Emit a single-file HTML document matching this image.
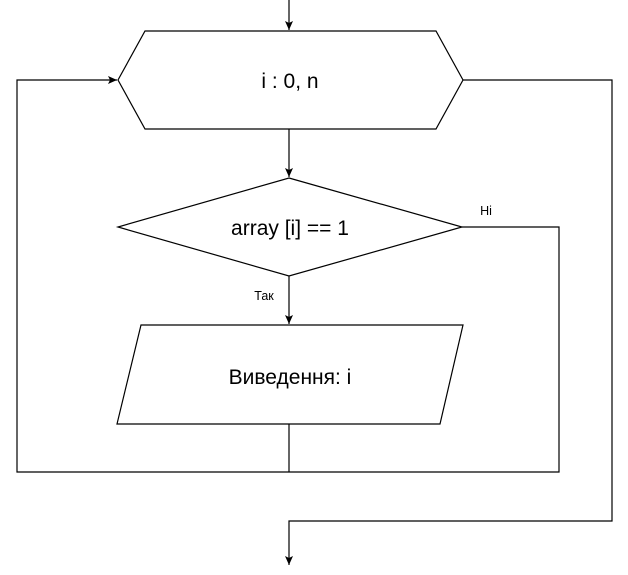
<!DOCTYPE html>
<html><head><meta charset="utf-8"><style>html,body{margin:0;padding:0;background:#fff}</style></head>
<body>
<svg width="628" height="570" viewBox="0 0 628 570" xmlns="http://www.w3.org/2000/svg" font-family="Liberation Sans, Arial, sans-serif">
<defs><marker id="a" markerWidth="10" markerHeight="10" refX="9" refY="5" orient="auto" markerUnits="userSpaceOnUse"><path d="M0,1 L9,5 L0,9 L2,5 Z" fill="#000"/></marker></defs>
<g fill="none" stroke="#000" stroke-width="1.2">
<line x1="289" y1="0" x2="289" y2="30" marker-end="url(#a)"/>
<polygon points="145,31 436,31 463,80 436,129 145,129 118,80" fill="#fff"/>
<line x1="289" y1="129" x2="289" y2="177" marker-end="url(#a)"/>
<polygon points="289,178 462,227 289,276 118,227" fill="#fff"/>
<line x1="289" y1="276" x2="289" y2="324" marker-end="url(#a)"/>
<polygon points="141,325 463,325 440,424 117,424" fill="#fff"/>
<polyline points="289,424 289,472"/>
<polyline points="462,227 559,227 559,472 17,472 17,80 117,80" marker-end="url(#a)"/>
<polyline points="463,80 612,80 612,521 289,521 289,565" marker-end="url(#a)"/>
</g>
<g fill="#000" text-anchor="middle">
<text x="290" y="88" font-size="21">i : 0, n</text>
<text x="290" y="235" font-size="21">array [i] == 1</text>
<text x="290" y="384" font-size="21">Виведення: i</text>
<text x="486" y="215" font-size="12.5">Ні</text>
<text x="264" y="300" font-size="12.5">Так</text>
</g>
</svg>
</body></html>
